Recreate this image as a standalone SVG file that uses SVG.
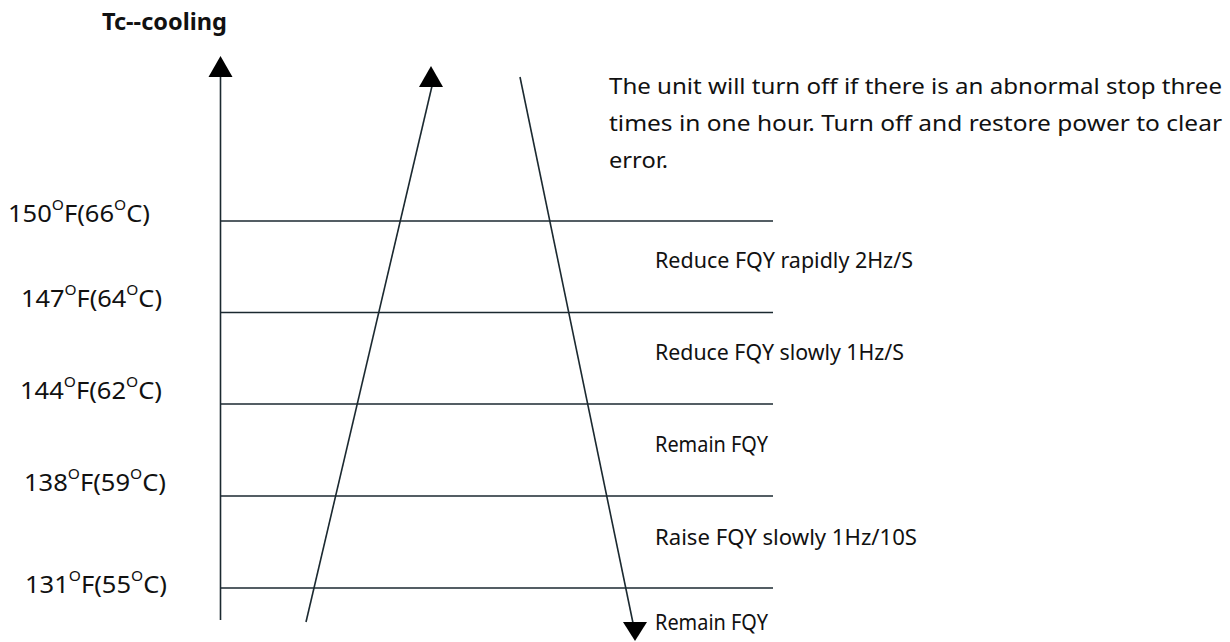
<svg xmlns="http://www.w3.org/2000/svg" width="1230" height="642" viewBox="0 0 1230 642">
<style>
text{font-family:"Noto Sans","Open Sans","Liberation Sans",sans-serif;font-size:21px;fill:#111}
.title{font-weight:bold;font-size:23px}
.lbl{font-size:23px}
.ln{stroke:#1b2930;stroke-width:1.6;fill:none}
.ah{fill:#000}
.sup{font-size:14px}
</style>
<rect width="1230" height="642" fill="#fff"/>
<g id="title"><text class="title" x="102" y="30" textLength="125" lengthAdjust="spacingAndGlyphs">Tc--cooling</text></g>
<g id="connectors">
<line class="ln" x1="220.5" y1="76" x2="220.5" y2="620"/>
<polygon class="ah" points="220.5,56 208.5,77 232.5,77"/>
<line class="ln" x1="306" y1="622" x2="432" y2="86"/>
<polygon class="ah" points="431,66 419,87 443,87"/>
<line class="ln" x1="520" y1="77" x2="633" y2="623"/>
<polygon class="ah" points="623,622 647,622 635,641"/>
<line class="ln" x1="220" y1="221" x2="773" y2="221"/>
<line class="ln" x1="220" y1="312.5" x2="773" y2="312.5"/>
<line class="ln" x1="220" y1="404" x2="773" y2="404"/>
<line class="ln" x1="220" y1="496" x2="773" y2="496"/>
<line class="ln" x1="220" y1="588" x2="773" y2="588"/>
</g>
<g id="label-150"><text class="lbl" x="8" y="222" textLength="142" lengthAdjust="spacingAndGlyphs">150<tspan class="sup" dy="-12">O</tspan><tspan dy="12">F(66</tspan><tspan class="sup" dy="-12">O</tspan><tspan dy="12">C)</tspan></text></g>
<g id="label-147"><text class="lbl" x="21" y="307" textLength="141" lengthAdjust="spacingAndGlyphs">147<tspan class="sup" dy="-12">O</tspan><tspan dy="12">F(64</tspan><tspan class="sup" dy="-12">O</tspan><tspan dy="12">C)</tspan></text></g>
<g id="label-144"><text class="lbl" x="20" y="399" textLength="142" lengthAdjust="spacingAndGlyphs">144<tspan class="sup" dy="-12">O</tspan><tspan dy="12">F(62</tspan><tspan class="sup" dy="-12">O</tspan><tspan dy="12">C)</tspan></text></g>
<g id="label-138"><text class="lbl" x="24" y="491" textLength="142" lengthAdjust="spacingAndGlyphs">138<tspan class="sup" dy="-12">O</tspan><tspan dy="12">F(59</tspan><tspan class="sup" dy="-12">O</tspan><tspan dy="12">C)</tspan></text></g>
<g id="label-131"><text class="lbl" x="25" y="593" textLength="142" lengthAdjust="spacingAndGlyphs">131<tspan class="sup" dy="-12">O</tspan><tspan dy="12">F(55</tspan><tspan class="sup" dy="-12">O</tspan><tspan dy="12">C)</tspan></text></g>
<g id="note">
<text x="609" y="94" textLength="613" lengthAdjust="spacingAndGlyphs">The unit will turn off if there is an abnormal stop three</text>
<text x="609" y="131" textLength="613" lengthAdjust="spacingAndGlyphs">times in one hour.  Turn off and restore power to clear</text>
<text x="609" y="168" textLength="59" lengthAdjust="spacingAndGlyphs">error.</text>
</g>
<g id="zone-1"><text x="655" y="268" textLength="258" lengthAdjust="spacingAndGlyphs">Reduce FQY rapidly 2Hz/S</text></g>
<g id="zone-2"><text x="655" y="360" textLength="249" lengthAdjust="spacingAndGlyphs">Reduce FQY slowly 1Hz/S</text></g>
<g id="zone-3"><text x="655" y="452" textLength="113" lengthAdjust="spacingAndGlyphs">Remain FQY</text></g>
<g id="zone-4"><text x="655" y="545" textLength="262" lengthAdjust="spacingAndGlyphs">Raise FQY slowly 1Hz/10S</text></g>
<g id="zone-5"><text x="655" y="630" textLength="113" lengthAdjust="spacingAndGlyphs">Remain FQY</text></g>
</svg>
